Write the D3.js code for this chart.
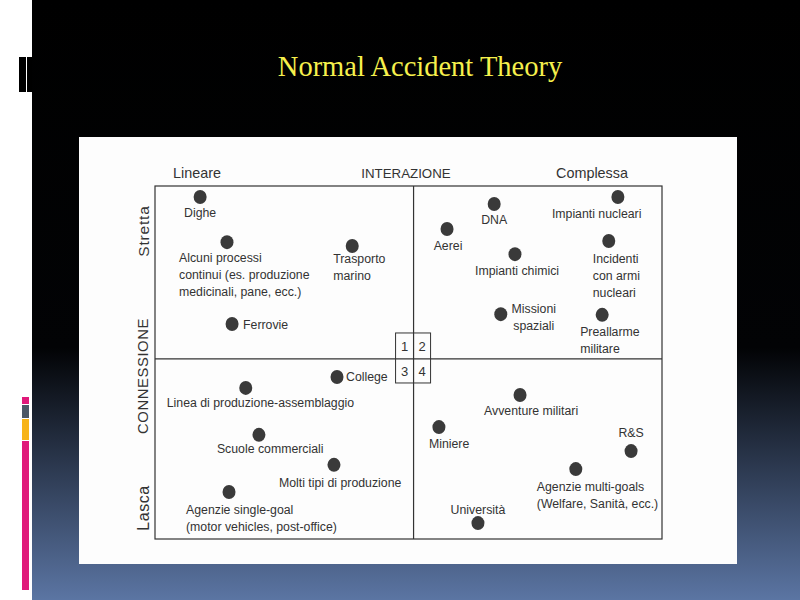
<!DOCTYPE html>
<html>
<head>
<meta charset="utf-8">
<script src="https://cdn.jsdelivr.net/npm/d3@7"></script>
<style>
  html, body { margin: 0; padding: 0; background: #fff; }
  svg { display: block; }
</style>
</head>
<body>
<div class="usable"></div>
<script>
// dati del grafico (Perrow: interazione x connessione)
const titolo = "Normal Accident Theory"
const sistemi = [
  "Dighe", "Alcuni processi\ncontinui (es. produzione\nmedicinali, pane, ecc.)", "Trasporto\nmarino", "Ferrovie",
  "DNA", "Aerei", "Impianti nucleari", "Incidenti\ncon armi\nnucleari", "Impianti chimici", "Missioni\nspaziali", "Preallarme\nmilitare",
  "College", "Linea di produzione-assemblaggio", "Scuole commerciali", "Molti tipi di produzione", "Agenzie single-goal\n(motor vehicles, post-office)",
  "Avventure militari", "Miniere", "R&S", "Agenzie multi-goals\n(Welfare, Sanità, ecc.)", "Università"
]
const interazione = [8.9, 14.2, 38.9, 15.2, 66.9, 57.6, 91.3, 89.5, 71.0, 68.2, 88.2, 35.9, 17.9, 20.5, 35.3, 14.6, 72.0, 56.0, 93.9, 83.0, 63.7]
const connessione = [96.9, 84.1, 83.0, 60.9, 94.9, 87.8, 96.9, 84.4, 80.7, 63.7, 63.5, 45.9, 42.8, 29.5, 21.0, 13.3, 40.8, 31.7, 24.9, 19.8, 4.5]
const assiX = ["Lineare", "INTERAZIONE", "Complessa"]
const assiY = ["Stretta", "CONNESSIONE", "Lasca"]
const quadranti = ["1", "2", "3", "4"]
const divisione = 51

// posizione delle etichette rispetto al punto: [anchor, dx, dy]
const etichette = [
  ["middle", 0, 16], ["start", -48, 15], ["start", -19, 13], ["start", 11, 1],
  ["middle", 0, 16], ["middle", 1, 17], ["start", -66, 17], ["start", -16, 18], ["start", -40, 16], ["middle", 33, -6], ["start", -22, 17],
  ["start", 9, 0], ["start", -79, 15], ["start", -42, 14], ["start", -55, 18], ["start", -43, 18],
  ["start", -36, 16], ["start", -10, 16], ["middle", 0, -19], ["start", -39, 17], ["middle", 0, -14]
]

const width = 800, height = 600
const font = "'Liberation Sans', Arial, sans-serif"
const ink = "#333"

let svg = d3.select(".usable").append("svg")
  .attr("width", width)
  .attr("height", height)

// sfondo della slide
let defs = svg.append("defs")
let grad = defs.append("linearGradient").attr("id", "fondo").attr("x1", 0).attr("y1", 0).attr("x2", 0).attr("y2", 1)
grad.append("stop").attr("offset", "0%").attr("stop-color", "#000")
grad.append("stop").attr("offset", "58%").attr("stop-color", "#020305")
grad.append("stop").attr("offset", "100%").attr("stop-color", "#5b75a3")

svg.append("rect").attr("x", 0).attr("y", 0).attr("width", width).attr("height", height).attr("fill", "#fff")
svg.append("rect").attr("x", 32).attr("y", 0).attr("width", width - 32).attr("height", height).attr("fill", "url(#fondo)")

// barre decorative a sinistra
svg.append("rect").attr("x", 19).attr("y", 57).attr("width", 7).attr("height", 35).attr("fill", "#000")
svg.append("rect").attr("x", 27).attr("y", 57).attr("width", 5).attr("height", 35).attr("fill", "#000")
let barre = [[397, 7, "#e0197a"], [405, 13, "#4c5866"], [419, 21, "#f7b418"], [441, 149, "#e0197a"]]
barre.forEach(function (b) {
  svg.append("rect").attr("x", 22).attr("y", b[0]).attr("width", 7).attr("height", b[1]).attr("fill", b[2])
})

svg.append("text").text(titolo)
  .attr("x", 420).attr("y", 76)
  .attr("text-anchor", "middle")
  .attr("font-family", "'Liberation Serif', 'Times New Roman', serif")
  .attr("font-size", 28.5)
  .attr("fill", "#f6f04c")

// immagine bianca
svg.append("rect").attr("x", 79).attr("y", 137).attr("width", 658).attr("height", 427).attr("fill", "#fdfdfd")

const x = d3.scaleLinear().domain([0, 100]).range([155, 662])
const y = d3.scaleLinear().domain([0, 100]).range([539, 186])

let g = svg.append("g")

g.append("rect")
  .attr("x", x(0)).attr("y", y(100))
  .attr("width", x(100) - x(0)).attr("height", y(0) - y(100))
  .attr("fill", "none").attr("stroke", ink).attr("stroke-width", 1.2)
g.append("line").attr("x1", x(divisione)).attr("x2", x(divisione)).attr("y1", y(100)).attr("y2", y(0))
  .attr("stroke", ink).attr("stroke-width", 1.2)
g.append("line").attr("x1", x(0)).attr("x2", x(100)).attr("y1", y(divisione)).attr("y2", y(divisione))
  .attr("stroke", ink).attr("stroke-width", 1.2)

// riquadro 1 2 / 3 4
let cx = x(divisione), cy = y(divisione)
g.append("rect").attr("x", cx - 18).attr("y", cy - 26).attr("width", 35).attr("height", 50)
  .attr("fill", "none").attr("stroke", ink).attr("stroke-width", 1)
quadranti.forEach(function (q, i) {
  g.append("text").text(q)
    .attr("x", cx + (i % 2 == 0 ? -9 : 8.5))
    .attr("y", cy + (i < 2 ? -13 : 12))
    .attr("dy", "0.36em")
    .attr("text-anchor", "middle")
    .attr("font-family", font).attr("font-size", 13)
    .attr("fill", ink)
})

// intestazioni
let posX = [[x(0) + 18, "start", 14.4], [406, "middle", 13.3], [592, "middle", 14.4]]
assiX.forEach(function (t, i) {
  g.append("text").text(t)
    .attr("x", posX[i][0]).attr("y", 173).attr("dy", "0.36em")
    .attr("text-anchor", posX[i][1])
    .attr("font-family", font).attr("font-size", posX[i][2])
    .attr("fill", ink)
})
let posY = [[231, 15.5, 0.8], [376, 14.8, 0.6], [508, 16, 0.6]]
assiY.forEach(function (t, i) {
  g.append("text").text(t)
    .attr("transform", "translate(143," + posY[i][0] + ") rotate(-90)")
    .attr("dy", "0.36em")
    .attr("text-anchor", "middle")
    .attr("font-family", font).attr("font-size", posY[i][1])
    .attr("letter-spacing", posY[i][2])
    .attr("fill", ink)
})

// punti
g.selectAll("ellipse.punto").data(sistemi).enter().append("ellipse")
  .attr("class", "punto")
  .attr("cx", (d, i) => x(interazione[i]))
  .attr("cy", (d, i) => y(connessione[i]))
  .attr("rx", 6.5).attr("ry", 7)
  .attr("fill", "#3a3a3a")

// etichette
sistemi.forEach(function (nome, i) {
  let e = etichette[i]
  let righe = nome.split("\n")
  let testo = g.append("text")
    .attr("text-anchor", e[0])
    .attr("font-family", font).attr("font-size", 12.3)
    .attr("fill", ink)
  righe.forEach(function (r, k) {
    testo.append("tspan").text(r)
      .attr("x", x(interazione[i]) + e[1])
      .attr("y", y(connessione[i]) + e[2] + k * 17)
      .attr("dy", "0.36em")
  })
})
</script>
</body>
</html>
